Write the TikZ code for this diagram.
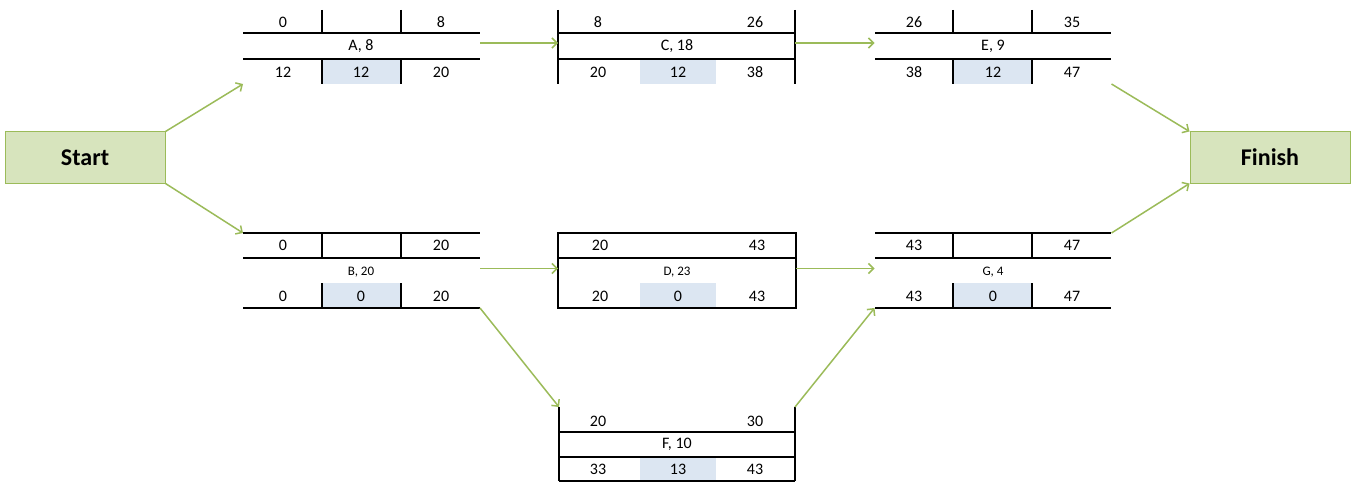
\documentclass[tikz,border=0pt]{standalone}
\usepackage{fontspec}
\setmainfont{Carlito}
\usetikzlibrary{arrows.meta,calc}
\definecolor{ogreen}{HTML}{9BBB59}
\definecolor{lgreen}{HTML}{D7E4BD}
\definecolor{lblue}{HTML}{DCE6F2}
\begin{document}
\begin{tikzpicture}[x=1pt,y=-1pt,
 frame/.style={line width=1.6pt,black},
 conn/.style={ogreen,line width=1.5pt,-{Straight Barb[length=5pt,width=10pt]}},
 term/.style={draw=ogreen,fill=lgreen,line width=1pt,minimum width=160pt,minimum height=51pt,inner sep=0pt,font=\fontsize{24}{28}\selectfont\bfseries},
 num/.style={font=\fontsize{16}{18}\selectfont,inner sep=0pt},
 lab/.style={font=\fontsize{13}{15}\selectfont,inner sep=0pt},
 act/.style={minimum width=237pt,inner sep=0pt,outer sep=0pt},
 slack/.style={fill=lblue}]
\useasboundingbox (0,0) rectangle (1351,484);

% terminals
\node[term] (start) at (85,157.5) {Start};
\node[term] (finish) at (1270,157.5) {Finish};

% invisible activity nodes
\node[act,minimum height=74pt] (A) at (361.5,47) {};
\node[act,minimum height=74pt] (C) at (676.5,47) {};
\node[act,minimum height=74pt] (E) at (993,47) {};
\node[act,minimum height=75pt] (B) at (361.5,270.5) {};
\node[act,minimum height=75pt,minimum width=238pt] (D) at (677,270.5) {};
\node[act,minimum height=75pt] (G) at (993,270.5) {};
\node[act,minimum height=74pt,minimum width=236pt] (F) at (677,444) {};

% ---- A ----
\fill[slack] (322,59) rectangle (401,84);
\draw[frame] (243,33) -- (480,33) (243,59) -- (480,59)
  (322,10) -- (322,33) (401,10) -- (401,33) (322,59) -- (322,84) (401,59) -- (401,84);
\node[num] at (283,22) {0};
\node[num] at (441,22) {8};
\node[num] at (361,46) {A, 8};
\node[num] at (283,72) {12};
\node[num] at (361,72) {12};
\node[num] at (441,72) {20};

% ---- C ----
\fill[slack] (640,59) rectangle (716,84);
\draw[frame] (558,10) -- (558,84) (795,10) -- (795,84) (558,33) -- (795,33) (558,59) -- (795,59);
\node[num] at (598,22) {8};
\node[num] at (755,22) {26};
\node[num] at (677,46) {C, 18};
\node[num] at (598,72) {20};
\node[num] at (678,72) {12};
\node[num] at (755,72) {38};

% ---- E ----
\fill[slack] (953,59) rectangle (1032,84);
\draw[frame] (875,33) -- (1111,33) (875,59) -- (1111,59)
  (953,10) -- (953,33) (1032,10) -- (1032,33) (953,59) -- (953,84) (1032,59) -- (1032,84);
\node[num] at (914,22) {26};
\node[num] at (1072,22) {35};
\node[num] at (993,46) {E, 9};
\node[num] at (914,72) {38};
\node[num] at (993,72) {12};
\node[num] at (1072,72) {47};

% ---- B ----
\fill[slack] (322,283) rectangle (401,308);
\draw[frame] (243,233) -- (480,233) (243,258) -- (480,258) (243,308) -- (480,308)
  (322,233) -- (322,258) (401,233) -- (401,258) (322,283) -- (322,308) (401,283) -- (401,308);
\node[num] at (283,245.5) {0};
\node[num] at (441,245.5) {20};
\node[lab] at (361,272) {B, 20};
\node[num] at (283,296) {0};
\node[num] at (361,296) {0};
\node[num] at (441,296) {20};

% ---- D ----
\fill[slack] (640,283) rectangle (716,308);
\draw[frame] (558,233) rectangle (796,308) (558,258) -- (796,258);
\node[num] at (600,245.5) {20};
\node[num] at (757,245.5) {43};
\node[lab] at (677,272) {D, 23};
\node[num] at (600,296) {20};
\node[num] at (678,296) {0};
\node[num] at (757,296) {43};

% ---- G ----
\fill[slack] (953,283) rectangle (1032,308);
\draw[frame] (875,233) -- (1111,233) (875,258) -- (1111,258) (875,308) -- (1111,308)
  (953,233) -- (953,258) (1032,233) -- (1032,258) (953,283) -- (953,308) (1032,283) -- (1032,308);
\node[num] at (914,245.5) {43};
\node[num] at (1072,245.5) {47};
\node[lab] at (993,272) {G, 4};
\node[num] at (914,296) {43};
\node[num] at (993,296) {0};
\node[num] at (1072,296) {47};

% ---- F ----
\fill[slack] (640,457) rectangle (716,481);
\draw[frame] (559,407) -- (559,481) (795,407) -- (795,481)
  (559,432) -- (795,432) (559,457) -- (795,457) (559,481) -- (795,481);
\node[num] at (598,421) {20};
\node[num] at (755,421) {30};
\node[num] at (677,444.5) {F, 10};
\node[num] at (598,469) {33};
\node[num] at (678,469) {13};
\node[num] at (755,469) {43};

% ---- connectors ----
\draw[conn] (start.north east) -- (A.south west);
\draw[conn] (start.south east) -- (B.north west);
\draw[conn] ($(A.east)+(0,-4)$) -- ($(C.west)+(0,-4)$);
\draw[conn] ($(C.east)+(0,-4)$) -- ($(E.west)+(0,-4)$);
\draw[conn] ($(B.east)+(0,-2)$) -- ($(D.west)+(0,-2)$);
\draw[conn] ($(D.east)+(0,-2)$) -- ($(G.west)+(0,-2)$);
\draw[conn] (B.south east) -- (F.north west);
\draw[conn] (F.north east) -- (G.south west);
\draw[conn] (E.south east) -- (finish.north west);
\draw[conn] (G.north east) -- (finish.south west);
\end{tikzpicture}
\end{document}
